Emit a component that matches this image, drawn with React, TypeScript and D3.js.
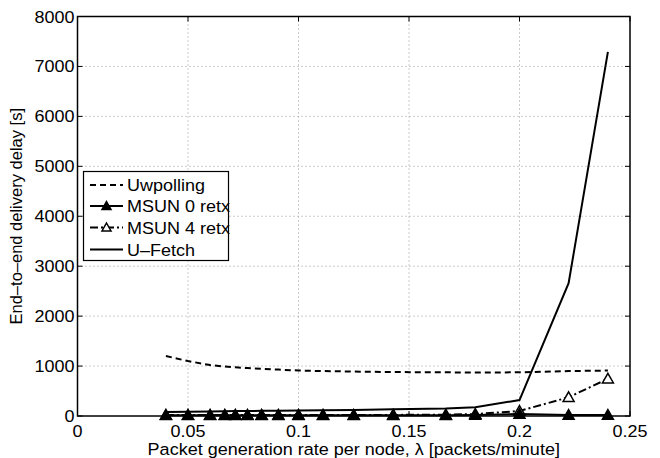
import React from "react";
import * as d3 from "d3";

const xValues = [0.04, 0.05, 0.06, 1 / 15, 1 / 14, 1 / 13, 1 / 12, 1 / 11, 0.1, 1 / 9, 1 / 8, 1 / 7, 1 / 6, 0.18, 0.2, 2 / 9, 0.24];
const uwpolling = [1200, 1100, 1020, 990, 975, 960, 945, 930, 910, 900, 890, 880, 875, 870, 875, 900, 910];
const msun0 = [15, 15, 15, 15, 15, 15, 15, 15, 15, 15, 15, 15, 15, 18, 40, 20, 20];
const msun4 = [20, 20, 20, 20, 20, 20, 20, 20, 20, 20, 20, 22, 25, 40, 100, 375, 745];
const ufetch = [80, 85, 90, 95, 98, 100, 103, 107, 110, 115, 122, 135, 150, 175, 320, 2660, 7290];

const xTicks = [0, 0.05, 0.1, 0.15, 0.2, 0.25];
const xTickLabels = ["0", "0.05", "0.1", "0.15", "0.2", "0.25"];
const yTicks = [0, 1000, 2000, 3000, 4000, 5000, 6000, 7000, 8000];

const seriesNames = ["Uwpolling", "MSUN 0 retx", "MSUN 4 retx", "U\u2013Fetch"];

const W = 660, H = 458;
const L = 77.5, R = 630, T = 16.5, B = 416;
const FONT = "'Liberation Sans', Arial, Helvetica, sans-serif";
const FS = 17;
const SX = 1.06;

function HText({ x, y, anchor = "start", children }: { x: number; y: number; anchor?: string; children: React.ReactNode }) {
  return (
    <text transform={`translate(${x},${y}) scale(${SX},1)`} textAnchor={anchor} fontSize={FS}>
      {children}
    </text>
  );
}

export default function App() {
  const x = d3.scaleLinear().domain([0, 0.25]).range([L, R]);
  const y = d3.scaleLinear().domain([0, 8000]).range([B, T]);
  const line = (vals: number[]) =>
    d3.line<number>().x((_, i) => x(xValues[i])).y((v) => y(v))(vals) || "";
  const tri = (cx: number, cy: number, s = 5.5) =>
    `M${cx},${cy - s}L${cx + s},${cy + s * 0.75}L${cx - s},${cy + s * 0.75}Z`;

  const series = [
    { name: seriesNames[0], vals: uwpolling, dash: "6,4", marker: null as null | "filled" | "hollow" },
    { name: seriesNames[3], vals: ufetch, dash: "", marker: null },
    { name: seriesNames[2], vals: msun4, dash: "8,3,2,3", marker: "hollow" as const },
    { name: seriesNames[1], vals: msun0, dash: "", marker: "filled" as const },
  ];

  const legendItems = [
    { name: seriesNames[0], dash: "6,4", marker: null as null | string },
    { name: seriesNames[1], dash: "", marker: "filled" },
    { name: seriesNames[2], dash: "8,3,2,3", marker: "hollow" },
    { name: seriesNames[3], dash: "", marker: null },
  ];
  const legY = [185, 206, 227.5, 249.5];

  return (
    <svg width={W} height={H} style={{ position: "absolute", left: 0, top: 0, background: "#fff" }} fontFamily={FONT}>
      <rect x={0} y={0} width={W} height={H} fill="#fff" />
      {xTicks.slice(1, -1).map((t) => (
        <line key={"gx" + t} x1={x(t)} x2={x(t)} y1={T} y2={B} stroke="#999" strokeWidth={1} strokeDasharray="1,3" />
      ))}
      {yTicks.slice(1, -1).map((t) => (
        <line key={"gy" + t} x1={L} x2={R} y1={y(t)} y2={y(t)} stroke="#999" strokeWidth={1} strokeDasharray="1,3" />
      ))}
      {xTicks.map((t) => (
        <g key={"tx" + t}>
          <line x1={x(t)} x2={x(t)} y1={B} y2={B - 5} stroke="#000" strokeWidth={1} />
          <line x1={x(t)} x2={x(t)} y1={T} y2={T + 5} stroke="#000" strokeWidth={1} />
        </g>
      ))}
      {yTicks.map((t) => (
        <g key={"ty" + t}>
          <line x1={L} x2={L + 5} y1={y(t)} y2={y(t)} stroke="#000" strokeWidth={1} />
          <line x1={R} x2={R - 5} y1={y(t)} y2={y(t)} stroke="#000" strokeWidth={1} />
        </g>
      ))}
      {series.map((s) => (
        <g key={s.name}>
          <path d={line(s.vals)} fill="none" stroke="#000" strokeWidth={2} strokeDasharray={s.dash || undefined} />
          {s.marker &&
            s.vals.map((v, i) => (
              <path key={i} d={tri(x(xValues[i]), y(v))} fill={s.marker === "filled" ? "#000" : "#fff"} stroke="#000" strokeWidth={1.5} />
            ))}
        </g>
      ))}
      <rect x={L} y={T} width={R - L} height={B - T} fill="none" stroke="#000" strokeWidth={1.5} />
      {xTicks.map((t, i) => (
        <HText key={"lx" + t} x={x(t)} y={437} anchor="middle">{xTickLabels[i]}</HText>
      ))}
      {yTicks.map((t) => (
        <HText key={"ly" + t} x={L - 3} y={y(t) + 6} anchor="end">{t}</HText>
      ))}
      <HText x={(L + R) / 2} y={455} anchor="middle">
        Packet generation rate per node, λ [packets/minute]
      </HText>
      <text transform={`translate(22,${(T + B) / 2}) rotate(-90)`} textAnchor="middle" fontSize={16.5}>
        End–to–end delivery delay [s]
      </text>
      <rect x={83.5} y={171.5} width={145} height={89} fill="#fff" stroke="#000" strokeWidth={1.2} />
      {legendItems.map((it, i) => (
        <g key={it.name}>
          <line x1={90} x2={123} y1={legY[i]} y2={legY[i]} stroke="#000" strokeWidth={2} strokeDasharray={it.dash || undefined} />
          {it.marker && <path d={tri(106.5, legY[i], 4.5)} fill={it.marker === "filled" ? "#000" : "#fff"} stroke="#000" strokeWidth={1.5} />}
          <HText x={127} y={legY[i] + 6}>{it.name}</HText>
        </g>
      ))}
    </svg>
  );
}
